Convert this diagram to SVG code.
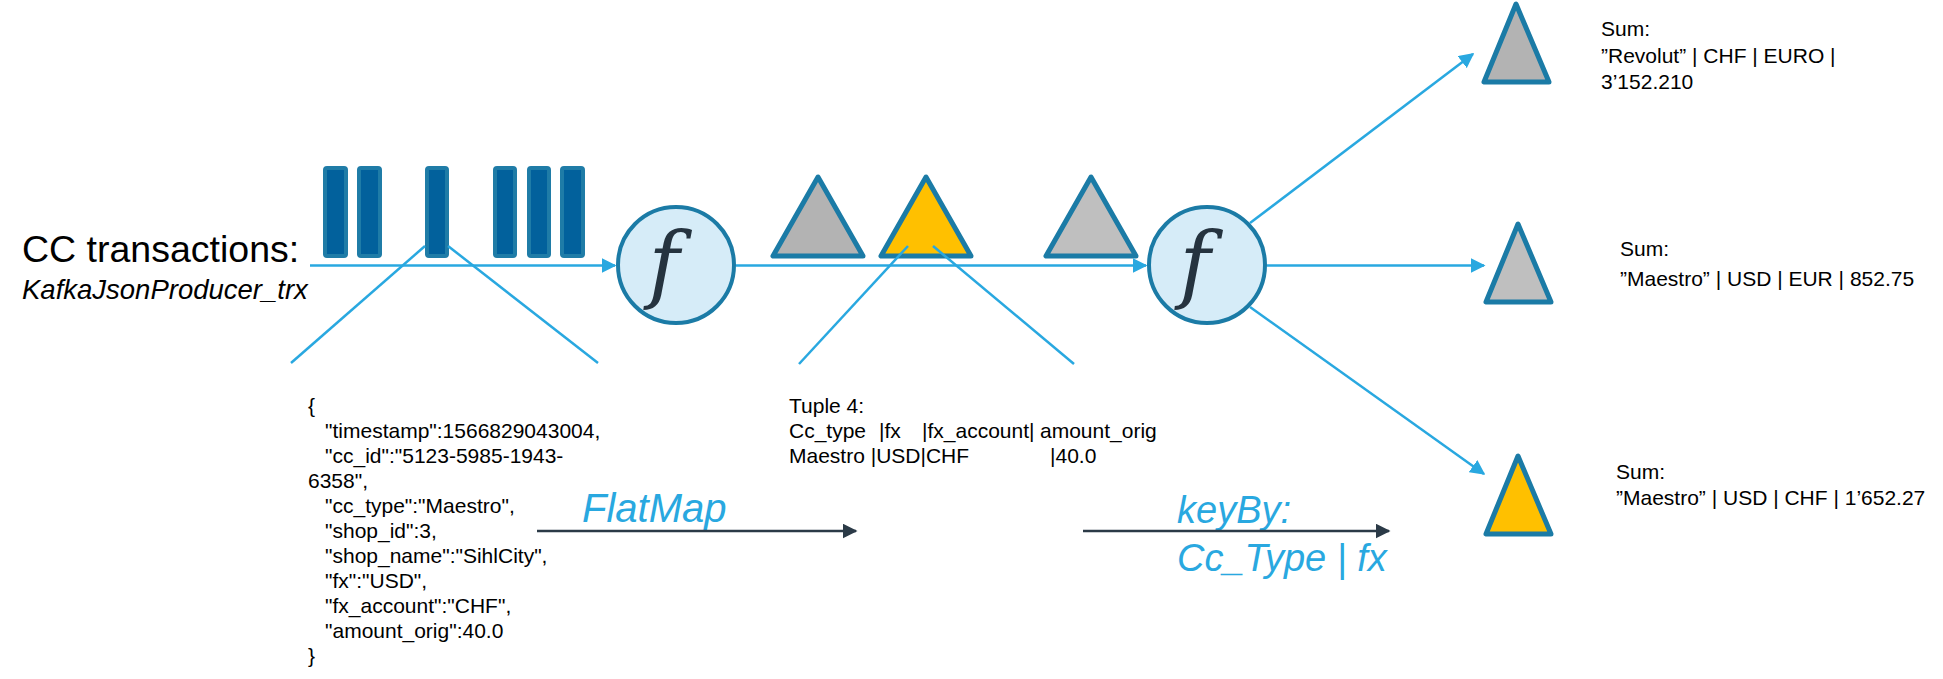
<svg xmlns="http://www.w3.org/2000/svg" width="1943" height="679" viewBox="0 0 1943 679">
<defs>
<marker id="ab" viewBox="0 0 10 10" refX="9" refY="5" markerWidth="6" markerHeight="6" markerUnits="strokeWidth" orient="auto"><path d="M0,0 L10,5 L0,10 z" fill="#29A8E0"/></marker>
<marker id="ad" viewBox="0 0 10 10" refX="9" refY="5" markerWidth="6" markerHeight="6" markerUnits="strokeWidth" orient="auto"><path d="M0,0 L10,5 L0,10 z" fill="#2B3A47"/></marker>
<style>
.bar{fill:#02619C;stroke:#1F7CA7;stroke-width:4}
.tri{stroke:#1B7BA6;stroke-width:5;stroke-linejoin:round}
.fn{fill:#D6ECF8;stroke:#1B7BA6;stroke-width:4}
.f{font-family:"DejaVu Serif","Liberation Serif",serif;font-style:italic;font-size:84px;fill:#25333F}
.blue{stroke:#29A8E0;stroke-width:2.5;fill:none}
.dark{stroke:#2B3A47;stroke-width:2.5;fill:none}
.t{font-family:"Liberation Sans",Arial,sans-serif;font-size:21px;fill:#000}
.lbl{font-family:"Liberation Sans",Arial,sans-serif;font-style:italic;fill:#29A8E0}
</style>
</defs>
<rect width="1943" height="679" fill="#fff"/>
<g id="source">
<text x="22" y="262" font-family="Liberation Sans, Arial, sans-serif" font-size="37.5" fill="#000">CC transactions:</text>
<text x="22" y="299" font-family="Liberation Sans, Arial, sans-serif" font-size="27.5" font-style="italic" fill="#000">KafkaJsonProducer_trx</text>
</g>
<g id="events">
<rect class="bar" x="325" y="168" width="21" height="88" rx="2"/>
<rect class="bar" x="359" y="168" width="21" height="88" rx="2"/>
<rect class="bar" x="427" y="168" width="20" height="88" rx="2"/>
<rect class="bar" x="495" y="168" width="20" height="88" rx="2"/>
<rect class="bar" x="529" y="168" width="20" height="88" rx="2"/>
<rect class="bar" x="562" y="168" width="21" height="88" rx="2"/>
</g>
<g id="flatmap-fn">
<circle class="fn" cx="676" cy="265" r="58"/>
<text class="f" x="664" y="292" text-anchor="middle">f</text>
</g>
<g id="tuples">
<path class="tri" fill="#B3B3B3" d="M818,177 L773,256 L863,256 Z"/>
<path class="tri" fill="#FFC000" d="M926,177 L881,256 L971,256 Z"/>
<path class="tri" fill="#BFBFBF" d="M1091,177 L1046,256 L1136,256 Z"/>
</g>
<g id="keyby-fn">
<circle class="fn" cx="1207" cy="265" r="58"/>
<text class="f" x="1195" y="292" text-anchor="middle">f</text>
</g>
<g id="result-revolut">
<path class="tri" fill="#B3B3B3" d="M1516,4 L1484,82 L1549,82 Z"/>
<text class="t" x="1601" y="36">Sum:</text>
<text class="t" x="1601" y="63">”Revolut” | CHF | EURO |</text>
<text class="t" x="1601" y="89">3’152.210</text>
</g>
<g id="result-maestro-eur">
<path class="tri" fill="#BFBFBF" d="M1518,224 L1486,302 L1551,302 Z"/>
<text class="t" x="1620" y="256">Sum:</text>
<text class="t" x="1620" y="286">”Maestro” | USD | EUR | 852.75</text>
</g>
<g id="result-maestro-chf">
<path class="tri" fill="#FFC000" d="M1518,456 L1486,534 L1551,534 Z"/>
<text class="t" x="1616" y="479">Sum:</text>
<text class="t" x="1616" y="505">”Maestro” | USD | CHF | 1’652.27</text>
</g>
<g id="json">
<text class="t" x="308" y="413">{</text>
<text class="t" x="325" y="438">"timestamp":1566829043004,</text>
<text class="t" x="325" y="463">"cc_id":"5123-5985-1943-</text>
<text class="t" x="308" y="488">6358",</text>
<text class="t" x="325" y="513">"cc_type":"Maestro",</text>
<text class="t" x="325" y="538">"shop_id":3,</text>
<text class="t" x="325" y="563">"shop_name":"SihlCity",</text>
<text class="t" x="325" y="588">"fx":"USD",</text>
<text class="t" x="325" y="613">"fx_account":"CHF",</text>
<text class="t" x="325" y="638">"amount_orig":40.0</text>
<text class="t" x="308" y="663">}</text>
</g>
<g id="tuple-text">
<text class="t" x="789" y="413">Tuple 4:</text>
<text class="t" y="438"><tspan x="789">Cc_type</tspan><tspan x="879">|fx</tspan><tspan x="922">|fx_account|</tspan><tspan x="1040">amount_orig</tspan></text>
<text class="t" y="463"><tspan x="789">Maestro |USD|CHF</tspan><tspan x="1050">|40.0</tspan></text>
</g>
<g id="op-labels">
<text class="lbl" x="582" y="522" font-size="40">FlatMap</text>
<text class="lbl" x="1177" y="523" font-size="38">keyBy:</text>
<text class="lbl" x="1177" y="571" font-size="38">Cc_Type | fx</text>
</g>
<g id="connectors">
<line class="blue" x1="310" y1="265.5" x2="615" y2="265.5" marker-end="url(#ab)"/>
<line class="blue" x1="736" y1="265.5" x2="1146" y2="265.5" marker-end="url(#ab)"/>
<line class="blue" x1="425" y1="246" x2="291" y2="363"/>
<line class="blue" x1="448" y1="246" x2="598" y2="363"/>
<line class="blue" x1="908" y1="246" x2="799" y2="364"/>
<line class="blue" x1="933" y1="246" x2="1074" y2="364"/>
<line class="blue" x1="1250" y1="223" x2="1473" y2="54" marker-end="url(#ab)"/>
<line class="blue" x1="1267" y1="265.5" x2="1484" y2="265.5" marker-end="url(#ab)"/>
<line class="blue" x1="1250" y1="307" x2="1484" y2="474" marker-end="url(#ab)"/>
<line class="dark" x1="537" y1="531" x2="856" y2="531" marker-end="url(#ad)"/>
<line class="dark" x1="1083" y1="531" x2="1389" y2="531" marker-end="url(#ad)"/>
</g>
</svg>
